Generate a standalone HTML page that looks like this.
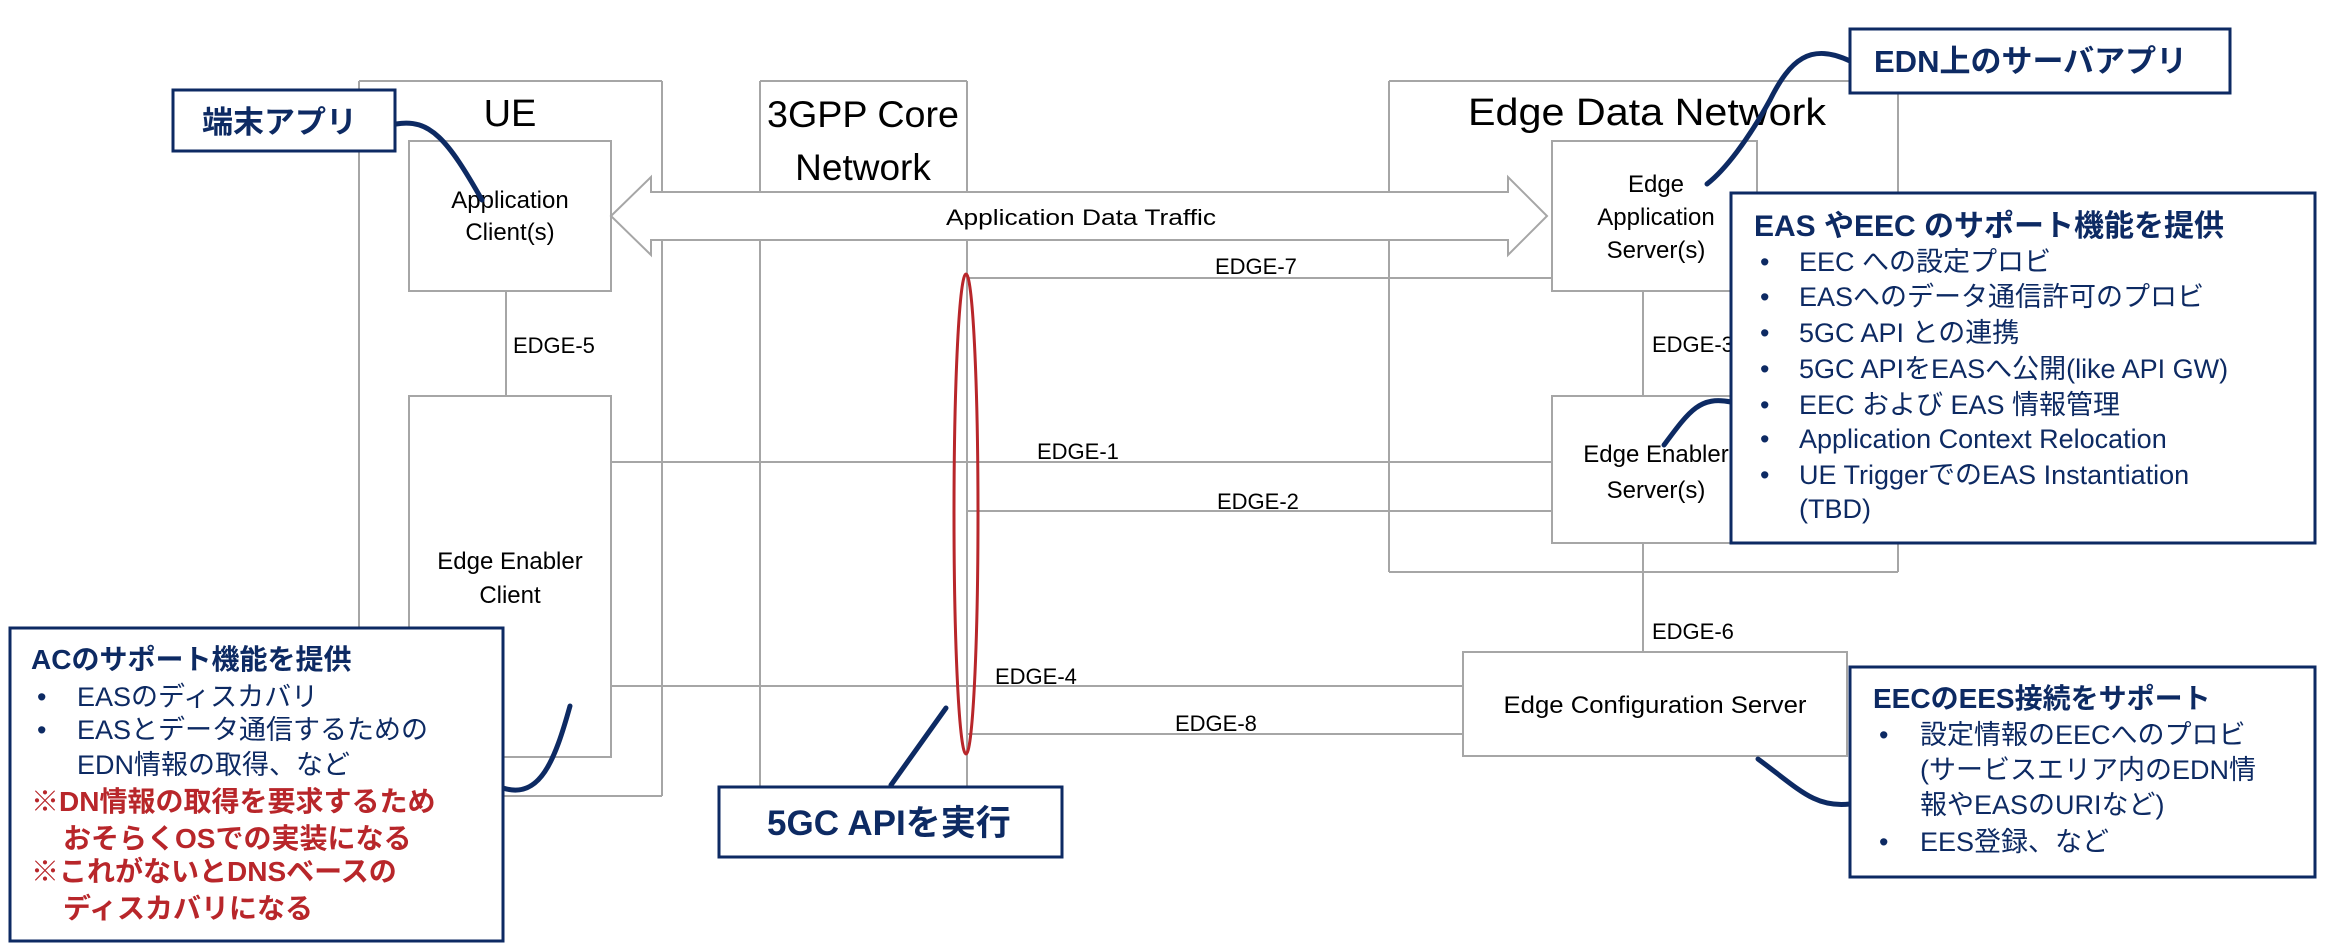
<!DOCTYPE html>
<html><head><meta charset="utf-8"><style>
html,body{margin:0;padding:0;background:#fff;}
svg{display:block;}
.l{font-family:"Liberation Sans","Noto Sans CJK JP",sans-serif;fill:#000;}
.j{font-family:"Liberation Sans","Noto Sans CJK JP",sans-serif;fill:#0d2a63;}
.b{font-weight:bold;}
.r{fill:#b8262a;font-weight:bold;}
</style></head><body>
<svg width="2332" height="952" viewBox="0 0 2332 952" xmlns="http://www.w3.org/2000/svg">
<g fill="#fff" stroke="#a6a6a6" stroke-width="2">
<rect x="409" y="141" width="202" height="150"/>
<rect x="409" y="396" width="202" height="361"/>
<rect x="1552" y="141" width="205" height="150"/>
<rect x="1552" y="396" width="205" height="147"/>
<rect x="1463" y="652" width="384" height="104"/>
</g>
<g stroke="#a6a6a6" stroke-width="2" fill="none">
<line x1="359" y1="81" x2="662" y2="81"/><line x1="359" y1="796" x2="662" y2="796"/>
<line x1="760" y1="81" x2="967" y2="81"/>
<line x1="1389" y1="81" x2="1898" y2="81"/><line x1="1389" y1="572" x2="1898" y2="572"/>
<line x1="359" y1="81" x2="359" y2="796"/><line x1="662" y1="81" x2="662" y2="796"/>
<line x1="760" y1="81" x2="760" y2="796"/><line x1="967" y1="81" x2="967" y2="796"/>
<line x1="1389" y1="81" x2="1389" y2="572"/><line x1="1898" y1="81" x2="1898" y2="572"/>
<line x1="506" y1="291" x2="506" y2="396"/>
<line x1="1643" y1="291" x2="1643" y2="396"/>
<line x1="1643" y1="543" x2="1643" y2="652"/>
<line x1="967" y1="278" x2="1552" y2="278"/>
<line x1="611" y1="462" x2="1552" y2="462"/>
<line x1="967" y1="511" x2="1552" y2="511"/>
<line x1="611" y1="686" x2="1463" y2="686"/>
<line x1="967" y1="734" x2="1463" y2="734"/>
</g>
<polygon points="611,216 651,177 651,192 1508,192 1508,177 1547,216 1508,255 1508,240 651,240 651,255" fill="#fff" stroke="#a6a6a6" stroke-width="2"/>
<text class="l" x="510" y="126" font-size="38" text-anchor="middle">UE</text>
<text class="l" x="863" y="127" font-size="37" text-anchor="middle" textLength="192" lengthAdjust="spacingAndGlyphs">3GPP Core</text>
<text class="l" x="863" y="180" font-size="37" text-anchor="middle">Network</text>
<text class="l" x="1468" y="125" font-size="38" textLength="358" lengthAdjust="spacingAndGlyphs">Edge Data Network</text>
<g class="l" font-size="24" text-anchor="middle">
<text x="510" y="208">Application</text>
<text x="510" y="240">Client(s)</text>
<text x="510" y="569">Edge Enabler</text>
<text x="510" y="603">Client</text>
<text x="1656" y="192">Edge</text>
<text x="1656" y="225">Application</text>
<text x="1656" y="258">Server(s)</text>
<text x="1656" y="462">Edge Enabler</text>
<text x="1656" y="498">Server(s)</text>
<text x="1655" y="713" textLength="303" lengthAdjust="spacingAndGlyphs">Edge Configuration Server</text>
</g>
<g class="l" font-size="22">
<text x="946" y="225" textLength="270" lengthAdjust="spacingAndGlyphs">Application Data Traffic</text>
<text x="1215" y="274">EDGE-7</text>
<text x="1037" y="459">EDGE-1</text>
<text x="1217" y="509">EDGE-2</text>
<text x="995" y="684">EDGE-4</text>
<text x="1175" y="731">EDGE-8</text>
<text x="513" y="353">EDGE-5</text>
<text x="1652" y="352">EDGE-3</text>
<text x="1652" y="639">EDGE-6</text>
</g>
<ellipse cx="966" cy="514" rx="12" ry="240" fill="none" stroke="#b8262a" stroke-width="3"/>
<g fill="none" stroke="#0d2a63" stroke-width="5" stroke-linecap="round">
<path d="M396,124 C430,118 448,140 482,200"/>
<path d="M1850,61 C1810,42 1790,60 1770,100 C1748,140 1725,170 1707,184"/>
<path d="M1731,402 C1700,396 1690,410 1664,445"/>
<path d="M503,788 C540,800 555,760 570,706"/>
<path d="M891,785 L946,708"/>
<path d="M1850,804 C1815,808 1800,790 1758,759"/>
</g>
<g fill="#fff" stroke="#0d2a63" stroke-width="3">
<rect x="173" y="90" width="222" height="61"/>
<rect x="1850" y="29" width="380" height="64"/>
<rect x="1731" y="193" width="584" height="350"/>
<rect x="10" y="628" width="493" height="313"/>
<rect x="719" y="787" width="343" height="70"/>
<rect x="1850" y="667" width="465" height="210"/>
</g>
<g class="j b">
<text x="202" y="133" font-size="31">端末アプリ</text>
<text x="1874" y="72" font-size="31">EDN上のサーバアプリ</text>
<text x="767" y="835" font-size="35">5GC APIを実行</text>
<text x="1754" y="236" font-size="30">EAS やEEC のサポート機能を提供</text>
<text x="31" y="669" font-size="28">ACのサポート機能を提供</text>
<text x="1873" y="708" font-size="28">EECのEES接続をサポート</text>
</g>
<g class="j" font-size="27">
<text x="1760" y="271">•</text><text x="1799" y="271">EEC への設定プロビ</text>
<text x="1760" y="306">•</text><text x="1799" y="306">EASへのデータ通信許可のプロビ</text>
<text x="1760" y="342">•</text><text x="1799" y="342">5GC API との連携</text>
<text x="1760" y="378">•</text><text x="1799" y="378">5GC APIをEASへ公開(like API GW)</text>
<text x="1760" y="414">•</text><text x="1799" y="414">EEC および EAS 情報管理</text>
<text x="1760" y="448">•</text><text x="1799" y="448">Application Context Relocation</text>
<text x="1760" y="484">•</text><text x="1799" y="484">UE TriggerでのEAS Instantiation</text>
<text x="1799" y="518">(TBD)</text>
<text x="37" y="706">•</text><text x="77" y="706">EASのディスカバリ</text>
<text x="37" y="739">•</text><text x="77" y="739">EASとデータ通信するための</text>
<text x="77" y="774">EDN情報の取得、など</text>
<text x="1879" y="744">•</text><text x="1920" y="744">設定情報のEECへのプロビ</text>
<text x="1920" y="779">(サービスエリア内のEDN情</text>
<text x="1920" y="814">報やEASのURIなど)</text>
<text x="1879" y="851">•</text><text x="1920" y="851">EES登録、など</text>
</g>
<g class="j r" font-size="28">
<text x="31" y="811" class="r">※DN情報の取得を要求するため</text>
<text x="63" y="848" class="r">おそらくOSでの実装になる</text>
<text x="31" y="881" class="r">※これがないとDNSベースの</text>
<text x="63" y="918" class="r">ディスカバリになる</text>
</g>
</svg>
</body></html>
